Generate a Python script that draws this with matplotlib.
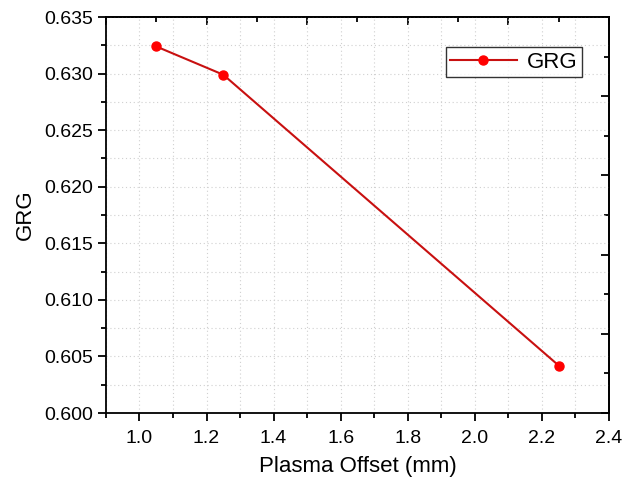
import numpy as np
import matplotlib
matplotlib.use("Agg")
import matplotlib.pyplot as plt
from matplotlib.ticker import MultipleLocator, FixedLocator, NullFormatter

plt.rcParams['font.family'] = ['Liberation Sans', 'DejaVu Sans']

# data
plasma_offset = [1.05, 1.25, 2.25]
grg = [0.6324, 0.6299, 0.6042]

fig = plt.figure(figsize=(6.34, 4.82), dpi=100)
ax = fig.add_axes([0.167, 0.143, 0.7936, 0.8217])

ax.plot(plasma_offset, grg, color='#c81010', lw=1.5, marker='o',
        markersize=6.5, markerfacecolor='#ff0000', markeredgecolor='#ff0000',
        label='GRG', zorder=3)

ax.set_xlim(0.9, 2.4)
ax.set_ylim(0.600, 0.635)

ax.xaxis.set_major_locator(MultipleLocator(0.2))
ax.xaxis.set_minor_locator(MultipleLocator(0.1))
ax.yaxis.set_major_locator(MultipleLocator(0.005))
ax.yaxis.set_minor_locator(MultipleLocator(0.0025))
ax.yaxis.set_major_formatter(matplotlib.ticker.FormatStrFormatter('%.3f'))

ax.tick_params(which='both', direction='out', width=1.3, labelsize=14,
               colors='black')
ax.tick_params(which='major', length=6)
ax.tick_params(which='minor', length=3.5)
ax.tick_params(axis='x', pad=6)

for s in ax.spines.values():
    s.set_linewidth(1.3)

ax.grid(True, which='both', color='#d0d0d0', ls=(0, (1, 2.5)), lw=0.8)
ax.set_axisbelow(True)

# mirrored axes with their own ticks, as in the original
top = ax.secondary_xaxis('top')
top.xaxis.set_major_locator(MultipleLocator(0.3))
top.xaxis.set_minor_locator(MultipleLocator(0.15))
top.xaxis.set_major_formatter(NullFormatter())
top.tick_params(which='both', direction='in', width=1.3)
top.tick_params(which='major', length=6)
top.tick_params(which='minor', length=3.5)

right = ax.secondary_yaxis('right')
right.yaxis.set_major_locator(FixedLocator(np.arange(0.600, 0.6351, 0.007)))
right.yaxis.set_minor_locator(FixedLocator(np.arange(0.6035, 0.6351, 0.007)))
right.yaxis.set_major_formatter(NullFormatter())
right.tick_params(which='both', direction='in', width=1.3)
right.tick_params(which='major', length=6)
right.tick_params(which='minor', length=3.5)
for sec in (top, right):
    for s in sec.spines.values():
        s.set_linewidth(1.3)

ax.set_xlabel('Plasma Offset (mm)', fontsize=16, labelpad=7)
ax.set_ylabel('GRG', fontsize=16, labelpad=6)

leg = ax.legend(loc='upper right', bbox_to_anchor=(0.946, 0.924),
                fontsize=16, frameon=True, fancybox=False, borderaxespad=0,
                handlelength=3.0, handletextpad=0.45, borderpad=0.2)
leg.get_frame().set_edgecolor('black')
leg.get_frame().set_linewidth(1.0)

fig.savefig('out.png', dpi=100)
